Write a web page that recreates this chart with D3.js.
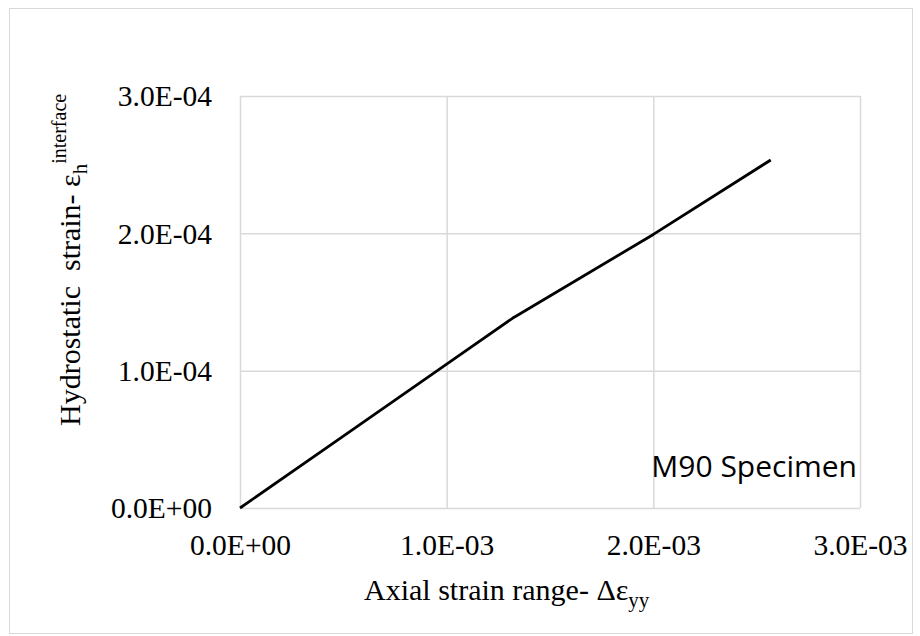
<!DOCTYPE html>
<html>
<head>
<meta charset="utf-8">
<script src="https://cdn.jsdelivr.net/npm/d3@7"></script>
<style>
  html, body { margin: 0; padding: 0; background: #fff; }
  svg { display: block; }
</style>
</head>
<body>
<svg id="chart" width="920" height="636"></svg>
<script>
// Axial strain range (x) vs. interface hydrostatic strain (y), M90 specimen
const axialStrain = [0, 0.5e-3, 1.0e-3, 1.32e-3, 1.335e-3, 2.0e-3, 2.568e-3];
const hydroStrain = [0, 0.523e-4, 1.047e-4, 1.383e-4, 1.396e-4, 1.992e-4, 2.534e-4];

const xTickValues = [0, 1e-3, 2e-3, 3e-3];
const xTickLabels = ["0.0E+00", "1.0E-03", "2.0E-03", "3.0E-03"];
const yTickValues = [0, 1e-4, 2e-4, 3e-4];
const yTickLabels = ["0.0E+00", "1.0E-04", "2.0E-04", "3.0E-04"];

const svg = d3.select("#chart");
const plot = { left: 240, right: 860, top: 96, bottom: 508 };

// outer chart frame
svg.append("rect")
  .attr("x", 9.5).attr("y", 8.5)
  .attr("width", 903).attr("height", 625)
  .attr("fill", "#fff")
  .attr("stroke", "#d9d9d9").attr("stroke-width", 1);

const x = d3.scaleLinear().domain([0, 3e-3]).range([plot.left, plot.right]);
const y = d3.scaleLinear().domain([0, 3e-4]).range([plot.bottom, plot.top]);

const serif = "'Liberation Serif', 'Times New Roman', serif";

// gridlines
const grid = svg.append("g");
grid.append("g")
  .attr("transform", `translate(0,${plot.bottom})`)
  .call(d3.axisBottom(x).tickValues(xTickValues)
    .tickSize(-(plot.bottom - plot.top)).tickFormat(""))
  .call(g => g.select(".domain").remove())
  .call(g => g.selectAll("line").attr("stroke", "#d9d9d9").attr("stroke-width", 1.5));
grid.append("g")
  .attr("transform", `translate(${plot.left},0)`)
  .call(d3.axisLeft(y).tickValues(yTickValues)
    .tickSize(-(plot.right - plot.left)).tickFormat(""))
  .call(g => g.select(".domain").remove())
  .call(g => g.selectAll("line").attr("stroke", "#d9d9d9").attr("stroke-width", 1.5));

// axis tick labels
const xAxis = svg.append("g")
  .attr("transform", `translate(0,${plot.bottom})`)
  .call(d3.axisBottom(x).tickValues(xTickValues).tickSize(0).tickPadding(0)
    .tickFormat((d, i) => xTickLabels[i]));
xAxis.select(".domain").remove();
xAxis.selectAll("text")
  .attr("font-family", serif).attr("font-size", 29.5).attr("fill", "#000")
  .attr("dy", null).attr("y", 47);

const yAxis = svg.append("g")
  .attr("transform", `translate(${plot.left},0)`)
  .call(d3.axisLeft(y).tickValues(yTickValues).tickSize(0).tickPadding(0)
    .tickFormat((d, i) => yTickLabels[i]));
yAxis.select(".domain").remove();
yAxis.selectAll("text")
  .attr("font-family", serif).attr("font-size", 29.5).attr("fill", "#000")
  .attr("x", -28).attr("dy", "0.33em");

// data line
const line = d3.line()
  .x((d, i) => x(axialStrain[i]))
  .y((d, i) => y(hydroStrain[i]));
svg.append("path")
  .datum(axialStrain)
  .attr("d", line)
  .attr("fill", "none")
  .attr("stroke", "#000")
  .attr("stroke-width", 2.8)
  .attr("stroke-linejoin", "round");

// specimen label
svg.append("text")
  .attr("x", 857).attr("y", 477)
  .attr("text-anchor", "end")
  .attr("font-family", "'Open Sans', 'Noto Sans', sans-serif")
  .attr("font-size", 30)
  .attr("fill", "#000")
  .text("M90 Specimen");

// x-axis title
const xt = svg.append("text")
  .attr("x", 364).attr("y", 600)
  .attr("font-family", serif).attr("font-size", 30).attr("fill", "#000");
xt.append("tspan").text("Axial strain range- Δε");
xt.append("tspan").attr("font-size", 21).attr("dy", 7).text("yy");

// y-axis title
const yt = svg.append("text")
  .attr("transform", "translate(80,426) rotate(-90)")
  .attr("font-family", serif).attr("font-size", 30).attr("fill", "#000")
  .attr("xml:space", "preserve");
yt.append("tspan").text("Hydrostatic  strain- ε");
yt.append("tspan").attr("font-size", 21).attr("dy", 7).text("h");
yt.append("tspan").attr("font-size", 20).attr("dy", -21).text("interface");
</script>
</body>
</html>
